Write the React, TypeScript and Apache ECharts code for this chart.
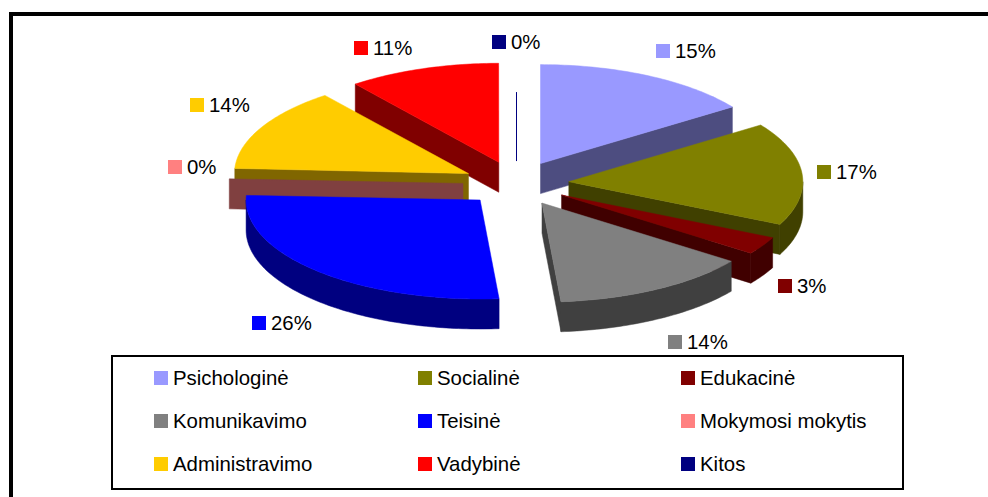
import React, { useEffect, useRef } from "react";
import * as echarts from "echarts";

// ---- data ----
const categories = ["Psichologinė", "Socialinė", "Edukacinė", "Komunikavimo", "Teisinė", "Mokymosi mokytis", "Administravimo", "Vadybinė", "Kitos"];
const shares = [15.3, 16.8, 2.9, 13.7, 26.29, 0.1, 14.4, 10.5, 0.01];
const topColors = ["#9999FF", "#808000", "#800000", "#808080", "#0000FF", "#FF8080", "#FFCC00", "#FF0000", "#000080"];
const sideColors = ["#4D4D80", "#404000", "#400000", "#404040", "#000080", "#804040", "#806600", "#800000", "#000040"];

// ---- layout ----
const paintOrder = [0, 7, 8, 6, 5, 1, 2, 3, 4];
const labelSpots = [[656, 44], [817, 165], [778, 279], [668, 335], [252, 316], [168, 160], [190, 98], [354, 41], [492, 35]];
const legendX = [154, 418, 681];
const legendY = [368, 411, 454];
const CX = 516, CY = 183.5, RX = 234, RY = 99, DEPTH = 30, EXPLODE = 53;
const FONT = '"Liberation Sans", Arial, sans-serif';

const rad = (d: number) => (d * Math.PI) / 180;
// Small correction for the perspective of the 3-D view on the far-left part of the pie
const warp = (t: number) => (t > 175 && t < 322 ? t + 3 * Math.sin((Math.PI * (t - 175)) / 147) : t);

const starts: number[] = [];
shares.reduce((acc, v, i) => {
  starts[i] = acc;
  return acc + v;
}, 0);

function sliceItem(i: number) {
  const a0 = (starts[i] / 100) * 360;
  const a1 = ((starts[i] + shares[i]) / 100) * 360;
  const mid = (a0 + a1) / 2;
  const ax = CX + EXPLODE * Math.sin(rad(mid));
  const ay = CY - EXPLODE * (RY / RX) * Math.cos(rad(mid));
  const pt = (t: number, dy = 0) => [ax + RX * Math.sin(rad(t)), ay - RY * Math.cos(rad(t)) + dy];
  const w0 = warp(a0), w1 = warp(a1);
  const arc: number[][] = [];
  const n = Math.max(1, Math.ceil(w1 - w0));
  for (let k = 0; k <= n; k++) arc.push(pt(w0 + ((w1 - w0) * k) / n));

  const children: any[] = [];
  const poly = (points: number[][], fill: string) => children.push({ type: "polygon", shape: { points }, style: { fill, stroke: fill, lineWidth: 0.5 } });

  if (shares[i] < 0.05) {
    children.push({ type: "line", shape: { x1: Math.round(ax) + 0.5, y1: ay, x2: Math.round(ax) + 0.5, y2: ay - RY + DEPTH }, style: { stroke: topColors[i], lineWidth: 1 } });
  } else {
    // radial faces that turn towards the viewer
    if (Math.sin(rad(w0)) < 0) {
      const p = pt(w0);
      poly([[ax, ay], p, [p[0], p[1] + DEPTH], [ax, ay + DEPTH]], sideColors[i]);
    }
    if (Math.sin(rad(w1)) > 0) {
      const p = pt(w1);
      poly([[ax, ay], p, [p[0], p[1] + DEPTH], [ax, ay + DEPTH]], sideColors[i]);
    }
    // outer rim, front half only
    const lo = Math.max(w0, 90), hi = Math.min(w1, 270);
    if (hi > lo) {
      const rim: number[][] = [];
      const m = Math.ceil(hi - lo);
      for (let k = 0; k <= m; k++) rim.push(pt(lo + ((hi - lo) * k) / m));
      for (let k = m; k >= 0; k--) rim.push(pt(lo + ((hi - lo) * k) / m, DEPTH));
      poly(rim, sideColors[i]);
    }
    // a sliver too thin to show its top face leaves only its side
    if (shares[i] >= 0.2) poly([[ax, ay], ...arc], topColors[i]);
  }

  // data label: colour key and rounded percentage
  const [lx, ly] = labelSpots[i];
  children.push({ type: "rect", shape: { x: lx, y: ly, width: 14, height: 14 }, style: { fill: topColors[i] } });
  children.push({
    type: "text",
    style: { text: `${Math.round(shares[i])}%`, x: lx + 19, y: ly + 7, fill: "#000", font: `20.4px ${FONT}`, textAlign: "left", textVerticalAlign: "middle" },
  });
  return { type: "group", children };
}

export default function App() {
  const ref = useRef<HTMLDivElement>(null);
  useEffect(() => {
    document.body.style.margin = "0";
    const chart = echarts.init(ref.current!, undefined, { renderer: "svg" });
    chart.setOption({
      animation: false,
      backgroundColor: "#fff",
      legend: categories.map((name, i) => ({
        data: [name],
        left: legendX[i % 3],
        top: legendY[Math.floor(i / 3)],
        padding: 0,
        icon: "rect",
        itemWidth: 14,
        itemHeight: 14,
        selectedMode: false,
        textStyle: { fontFamily: FONT, fontSize: 20.4, color: "#000" },
      })),
      graphic: [
        { type: "polyline", silent: true, shape: { points: [[11, 497], [11, 14], [988, 14]] }, style: { fill: "none", stroke: "#000", lineWidth: 4 } },
        { type: "rect", silent: true, shape: { x: 112, y: 356, width: 791, height: 133 }, style: { fill: "none", stroke: "#000", lineWidth: 2 } },
      ],
      series: paintOrder.map((i) => ({
        type: "custom",
        name: categories[i],
        coordinateSystem: "none",
        silent: true,
        itemStyle: { color: topColors[i] },
        data: [shares[i]],
        renderItem: () => sliceItem(i),
      })),
    });
    return () => chart.dispose();
  }, []);
  return <div ref={ref} style={{ width: 988, height: 497 }} />;
}
